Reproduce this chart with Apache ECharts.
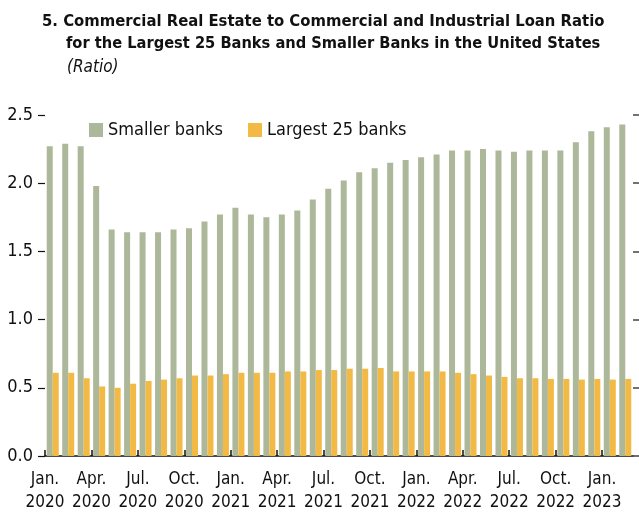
<!DOCTYPE html>
<html>
<head>
<meta charset="utf-8">
<script src="https://cdn.jsdelivr.net/npm/echarts@6/dist/echarts.min.js"></script>
<style>
  html, body { margin: 0; padding: 0; background: #fff; }
  #chart { width: 639px; height: 512px; }
</style>
</head>
<body>
<div id="chart"></div>
<script>
var FONT = "'DejaVu Sans Condensed', 'Liberation Sans Narrow', sans-serif";

var categories = [
  'Jan. 2020', 'Feb. 2020', 'Mar. 2020', 'Apr. 2020', 'May 2020', 'Jun. 2020',
  'Jul. 2020', 'Aug. 2020', 'Sep. 2020', 'Oct. 2020', 'Nov. 2020', 'Dec. 2020',
  'Jan. 2021', 'Feb. 2021', 'Mar. 2021', 'Apr. 2021', 'May 2021', 'Jun. 2021',
  'Jul. 2021', 'Aug. 2021', 'Sep. 2021', 'Oct. 2021', 'Nov. 2021', 'Dec. 2021',
  'Jan. 2022', 'Feb. 2022', 'Mar. 2022', 'Apr. 2022', 'May 2022', 'Jun. 2022',
  'Jul. 2022', 'Aug. 2022', 'Sep. 2022', 'Oct. 2022', 'Nov. 2022', 'Dec. 2022',
  'Jan. 2023', 'Feb. 2023'
];

var smallerBanks = [
  2.27, 2.29, 2.27, 1.98, 1.66, 1.64, 1.64, 1.64, 1.66, 1.67, 1.72, 1.77,
  1.82, 1.77, 1.75, 1.77, 1.80, 1.88, 1.96, 2.02, 2.08, 2.11, 2.15, 2.17,
  2.19, 2.21, 2.24, 2.24, 2.25, 2.24, 2.23, 2.24, 2.24, 2.24, 2.30, 2.38,
  2.41, 2.43
];

var largest25 = [
  0.61, 0.61, 0.57, 0.51, 0.50, 0.53, 0.55, 0.56, 0.57, 0.59, 0.59, 0.60,
  0.61, 0.61, 0.61, 0.62, 0.62, 0.63, 0.63, 0.64, 0.64, 0.645, 0.62, 0.62,
  0.62, 0.62, 0.61, 0.60, 0.59, 0.58, 0.57, 0.57, 0.565, 0.565, 0.56, 0.565,
  0.56, 0.565
];

var yTicks = [0, 0.5, 1.0, 1.5, 2.0, 2.5];

// month boundaries: label each quarter at the left edge of its first month
var boundaries = categories.concat(['']);

var myChart = echarts.init(document.getElementById('chart'));
var option = {
  animation: false,
  textStyle: { fontFamily: FONT },
  title: [
    {
      text: '5. Commercial Real Estate to Commercial and Industrial Loan Ratio',
      left: 37, top: 8,
      textStyle: { fontFamily: FONT, fontWeight: 'bold', fontSize: 16.5, color: '#111' }
    },
    {
      text: 'for the Largest 25 Banks and Smaller Banks in the United States',
      left: 61, top: 31,
      textStyle: { fontFamily: FONT, fontWeight: 'bold', fontSize: 16.3, color: '#111' }
    },
    {
      text: '(Ratio)',
      left: 62, top: 54,
      textStyle: { fontFamily: FONT, fontStyle: 'italic', fontWeight: 'normal', fontSize: 17, color: '#111' }
    }
  ],
  legend: {
    left: 84, top: 116,
    itemWidth: 14, itemHeight: 14, itemGap: 25,
    icon: 'rect',
    textStyle: { fontFamily: FONT, fontSize: 18, color: '#111' },
    data: ['Smaller banks', 'Largest 25 banks']
  },
  grid: { left: 45, right: 6, top: 115, bottom: 56, outerBoundsMode: 'none' },
  xAxis: [
    {
      type: 'category',
      data: categories,
      boundaryGap: true,
      position: 'bottom',
      axisLine: { onZero: false, lineStyle: { color: '#111', width: 1.5 } },
      axisTick: { show: false },
      axisLabel: { show: false }
    },
    {
      type: 'category',
      data: boundaries,
      boundaryGap: false,
      position: 'bottom',
      axisLine: { show: false, onZero: false },
      axisTick: { inside: true, length: 6, interval: 2, lineStyle: { color: '#111', width: 1.5 } },
      axisLabel: {
        interval: 2,
        hideOverlap: false,
        margin: 12,
        fontSize: 17,
        lineHeight: 23,
        color: '#111',
        formatter: function (v) { return v.replace(' ', '\n'); }
      }
    }
  ],
  yAxis: [
    {
      type: 'value',
      min: yTicks[0], max: yTicks[yTicks.length - 1], interval: 0.5,
      axisLine: { show: false },
      axisTick: { show: true, length: 7, lineStyle: { color: '#111', width: 1.2 } },
      splitLine: { show: false },
      axisLabel: {
        margin: 12, fontSize: 18, color: '#111',
        formatter: function (v) { return v.toFixed(1); }
      }
    },
    {
      type: 'value', position: 'right',
      min: yTicks[0], max: yTicks[yTicks.length - 1], interval: 0.5,
      axisLine: { show: false },
      axisTick: { show: true, length: 6, lineStyle: { color: '#444', width: 1.5 } },
      splitLine: { show: false },
      axisLabel: { show: false }
    }
  ],
  series: [
    {
      name: 'Smaller banks', type: 'bar', data: smallerBanks,
      barWidth: 6, barGap: '0%',
      itemStyle: { color: '#adb79a' }
    },
    {
      name: 'Largest 25 banks', type: 'bar', data: largest25,
      barWidth: 6, barGap: '0%',
      itemStyle: { color: '#f2ba44' }
    }
  ]
};
myChart.setOption(option);
</script>
</body>
</html>
